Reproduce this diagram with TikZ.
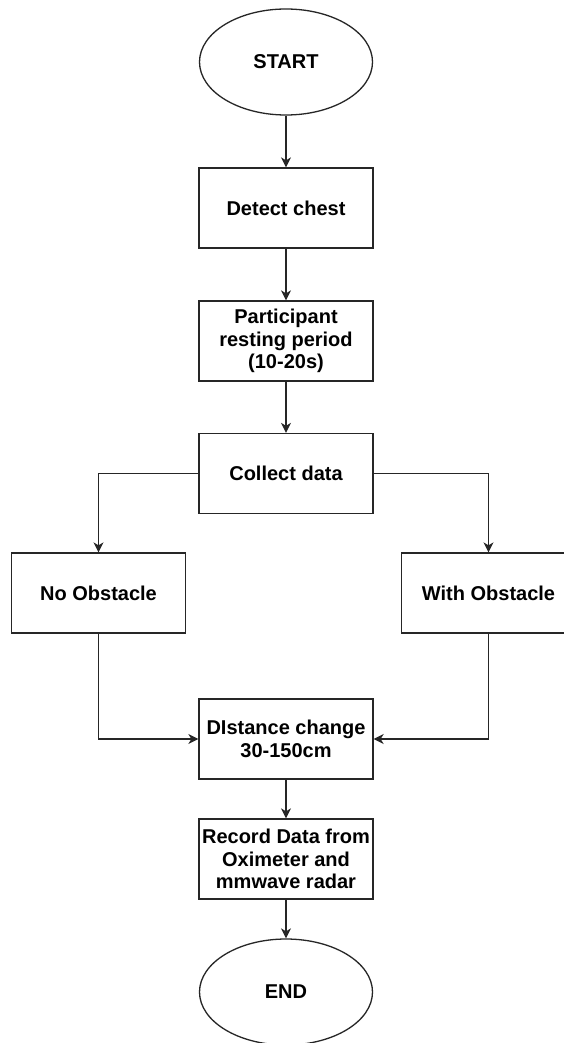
\documentclass[tikz,border=0pt]{standalone}
\usepackage{fontspec}
\setmainfont{Liberation Sans}
\usetikzlibrary{shapes.geometric,arrows.meta}

\tikzset{
  flow/.style={draw=black!85, line width=1.3pt},
  stepbox/.style={flow, rectangle, minimum width=174pt, minimum height=80pt,
    inner sep=2pt, align=center, font=\fontsize{20}{22.5}\selectfont\bfseries},
  terminal/.style={flow, ellipse, minimum width=173pt, minimum height=106pt,
    inner sep=0pt, align=center, font=\fontsize{20}{22.5}\selectfont\bfseries},
  arr/.style={draw=black!85, line width=1.3pt,
    -{Stealth[length=10pt, width=10pt, inset=3pt]}}
}

\begin{document}
\begin{tikzpicture}[x=1pt, y=-1pt]
  % page area; parts of the outer shapes run past its edges
  \clip (0,0) rectangle (564,1043);
  \fill[white] (0,0) rectangle (564,1043);

  \node[terminal] (start)   at (286,62)    {START};
  \node[stepbox]  (detect)  at (286,208)   {Detect chest};
  \node[stepbox]  (rest)    at (286,341)   {Participant\\resting period\\(10-20s)};
  \node[stepbox]  (collect) at (286,473.5) {Collect data};
  \node[stepbox]  (noobs)   at (98.5,593)  {No Obstacle};
  \node[stepbox]  (withobs) at (488.5,593) {With Obstacle};
  \node[stepbox]  (dist)    at (286,739)   {DIstance change\\30-150cm};
  \node[stepbox]  (record)  at (286,859)   {Record Data from\\Oximeter and\\mmwave radar};
  \node[terminal] (stop)    at (286,992)   {END};

  \draw[arr] (start) -- (detect);
  \draw[arr] (detect) -- (rest);
  \draw[arr] (rest) -- (collect);
  \draw[arr] (collect.west) -| (noobs.north);
  \draw[arr] (collect.east) -| (withobs.north);
  \draw[arr] (noobs.south) |- (dist.west);
  \draw[arr] (withobs.south) |- (dist.east);
  \draw[arr] (dist) -- (record);
  \draw[arr] (record) -- (stop);
\end{tikzpicture}
\end{document}
